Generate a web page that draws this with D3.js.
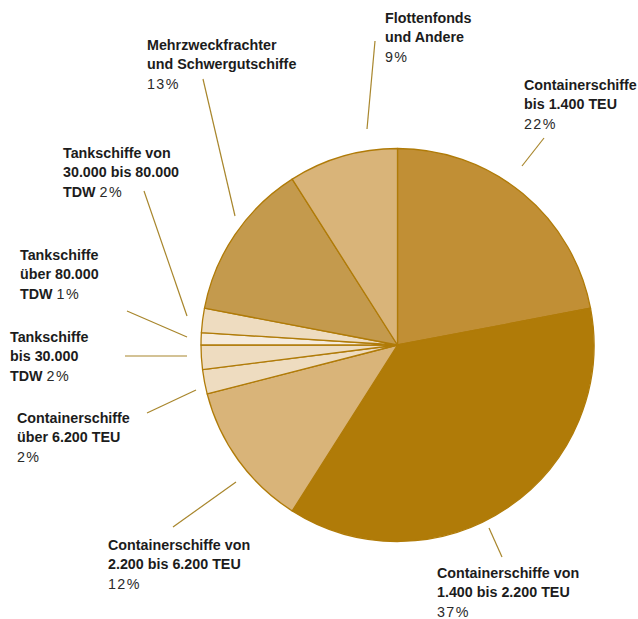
<!DOCTYPE html>
<html>
<head>
<meta charset="utf-8">
<script src="https://cdn.jsdelivr.net/npm/d3@7"></script>
<style>
  body { margin: 0; background: #fff; }
  svg text { font-family: "Liberation Sans", Arial, sans-serif; font-size: 14.3px; fill: #1c1c1c; }
  .name { font-weight: bold; }
  .pct { font-weight: normal; letter-spacing: 1.4px; fill: #2a2a2a; }
</style>
</head>
<body>
<svg class="chart"></svg>
<script>
var width = 638,
    height = 619;

// slices, clockwise from 12 o'clock
var names = [
    ["Containerschiffe", "bis 1.400 TEU"],
    ["Containerschiffe von", "1.400 bis 2.200 TEU"],
    ["Containerschiffe von", "2.200 bis 6.200 TEU"],
    ["Containerschiffe", "über 6.200 TEU"],
    ["Tankschiffe", "bis 30.000", "TDW"],
    ["Tankschiffe", "über 80.000", "TDW"],
    ["Tankschiffe von", "30.000 bis 80.000", "TDW"],
    ["Mehrzweckfrachter", "und Schwergutschiffe"],
    ["Flottenfonds", "und Andere"]
];
var shares = [22, 37, 12, 2, 2, 1, 2, 13, 9];
var colors = ["#c18f35", "#b07b08", "#d9b479", "#eedcc0", "#eedcc0", "#f6ebdc", "#eedcc0", "#c49a4d", "#d9b479"];

// label placement: text origin + leader line ends (offsets from pie centre)
var labelPos = [[524, 90], [437, 578], [108, 550], [17, 423], [10, 342], [20, 260], [63, 158], [147, 50], [385, 23]];
var pctInline = [false, false, false, false, true, true, true, false, false];
var leaders = [
    [[124.5, -179], [146.5, -207]],
    [[91.5, 183], [104.5, 212]],
    [[-161.5, 137], [-224.5, 182]],
    [[-201.5, 45], [-250.5, 68]],
    [[-210.5, 11], [-272.5, 11]],
    [[-210.5, -8], [-270.5, -34]],
    [[-210.5, -29], [-253.5, -154]],
    [[-162.5, -129], [-194.5, -266]],
    [[-30.5, -216], [-22.5, -304]]
];

var cx = 397.5, cy = 345, radius = 196.5, lineH = 19.3;

var svg = d3.select(".chart")
    .attr("width", width)
    .attr("height", height);

var pie = d3.pie().sort(null).value(function(d) { return d; });
var arc = d3.arc().innerRadius(0).outerRadius(radius);

var g = svg.append("g")
    .attr("transform", "translate(" + cx + "," + cy + ")");

g.selectAll(".slice")
    .data(pie(shares))
    .enter()
      .append("path")
      .attr("class", "slice")
      .attr("d", arc)
      .attr("fill", function(d, i) { return colors[i]; })
      .attr("stroke", "#b07b08")
      .attr("stroke-width", 1.3)
      .attr("stroke-linejoin", "round");

g.selectAll(".leader")
    .data(leaders)
    .enter()
      .append("line")
      .attr("class", "leader")
      .attr("x1", function(d) { return d[0][0]; })
      .attr("y1", function(d) { return d[0][1]; })
      .attr("x2", function(d) { return d[1][0]; })
      .attr("y2", function(d) { return d[1][1]; })
      .attr("stroke", "#a8862c")
      .attr("stroke-width", 1.2);

var labels = svg.selectAll(".label")
    .data(names)
    .enter()
      .append("text")
      .attr("class", "label")
      .attr("transform", function(d, i) { return "translate(" + labelPos[i][0] + "," + labelPos[i][1] + ")"; });

labels.each(function(lines, i) {
    var t = d3.select(this);
    lines.forEach(function(line, j) {
        t.append("tspan")
            .attr("class", "name")
            .attr("x", 0)
            .attr("y", j * lineH)
            .text(line);
    });
    var pct = t.append("tspan").attr("class", "pct").text(shares[i] + "%");
    if (pctInline[i]) {
        pct.attr("dx", 4);
    } else {
        pct.attr("x", 0).attr("y", lines.length * lineH);
    }
});
</script>
</body>
</html>
